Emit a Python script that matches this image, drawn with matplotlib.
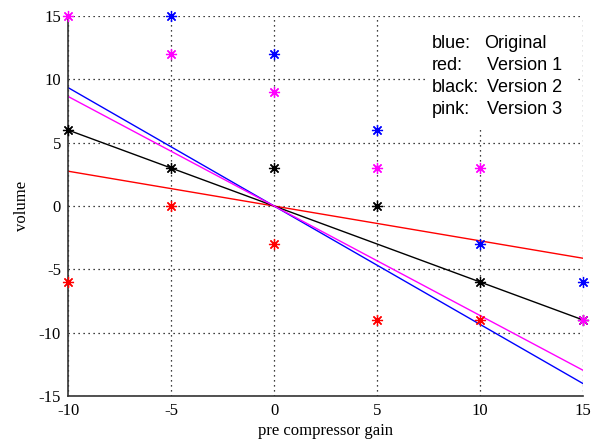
import matplotlib.pyplot as plt
import numpy as np

plt.rcParams['axes.unicode_minus'] = False

# gain settings on the x axis
gain = [-10, -5, 0, 5, 10, 15]

# measured volume for each version (None = off the chart)
blue_pts = [None, 15, 12, 6, -3, -6]
red_pts = [-6, 0, -3, -9, -9, None]
black_pts = [6, 3, 3, 0, -6, -9]
pink_pts = [15, 12, 9, 3, 3, -9]

# slopes of the fitted lines (through origin)
blue_slope = -0.935
red_slope = -0.275
black_slope = -0.6
pink_slope = -0.865

key_names = ['blue:', 'red:', 'black:', 'pink:']
key_versions = ['Original', 'Version 1', 'Version 2', 'Version 3']

series = [
    (blue_pts, blue_slope, (0, 0, 1)),
    (red_pts, red_slope, (1, 0, 0)),
    (black_pts, black_slope, (0, 0, 0)),
    (pink_pts, pink_slope, (1, 0, 1)),
]

fig = plt.figure(figsize=(5.97, 4.45), dpi=100)
ax = fig.add_axes([0.114, 0.110, 0.863, 0.854])

xs = np.array([gain[0], gain[-1]], dtype=float)
for pts, slope, col in series:
    px = [g for g, v in zip(gain, pts) if v is not None]
    py = [v for v in pts if v is not None]
    ax.plot(px, py, linestyle='none', marker=(8, 2, 0), markersize=8,
            markeredgewidth=0.9, color=col, clip_on=False, zorder=3)
    ax.plot(xs, slope * xs, color=col, linewidth=1.0, zorder=2)

ax.set_xlim(-10, 15)
ax.set_ylim(-15, 15)
ax.set_xticks(gain)
ax.set_yticks([-15, -10, -5, 0, 5, 10, 15])
ax.grid(True, linestyle=(0, (1, 3)), color='black', linewidth=0.9)
for s in ['top', 'right']:
    ax.spines[s].set_visible(False)
for s in ['left', 'bottom']:
    ax.spines[s].set_color('#333333')
    ax.spines[s].set_linewidth(1.2)
ax.tick_params(direction='in', length=0, pad=5, labelsize=12)
for lab in ax.get_xticklabels() + ax.get_yticklabels():
    lab.set_fontfamily('Liberation Serif')

ax.set_xlabel('pre compressor gain', fontfamily='Liberation Serif',
              fontsize=12, labelpad=3)
ax.set_ylabel('volume', fontfamily='Liberation Serif', fontsize=12,
              labelpad=6)

# white patch behind the key text, like the original
ax.add_patch(plt.Rectangle((7.45, 6.2), 7.3, 8.6, facecolor='white',
                           edgecolor='none', zorder=2.5))
for i, (nm, ver) in enumerate(zip(key_names, key_versions)):
    y = 12.85 - i * 1.74
    ax.text(7.67, y, nm, fontfamily='Liberation Sans', fontsize=13,
            va='center', ha='left', zorder=4)
    ax.text(10.2 if i == 0 else 10.35, y, ver, fontfamily='Liberation Sans',
            fontsize=13, va='center', ha='left', zorder=4)

fig.savefig('out.png', dpi=100)
